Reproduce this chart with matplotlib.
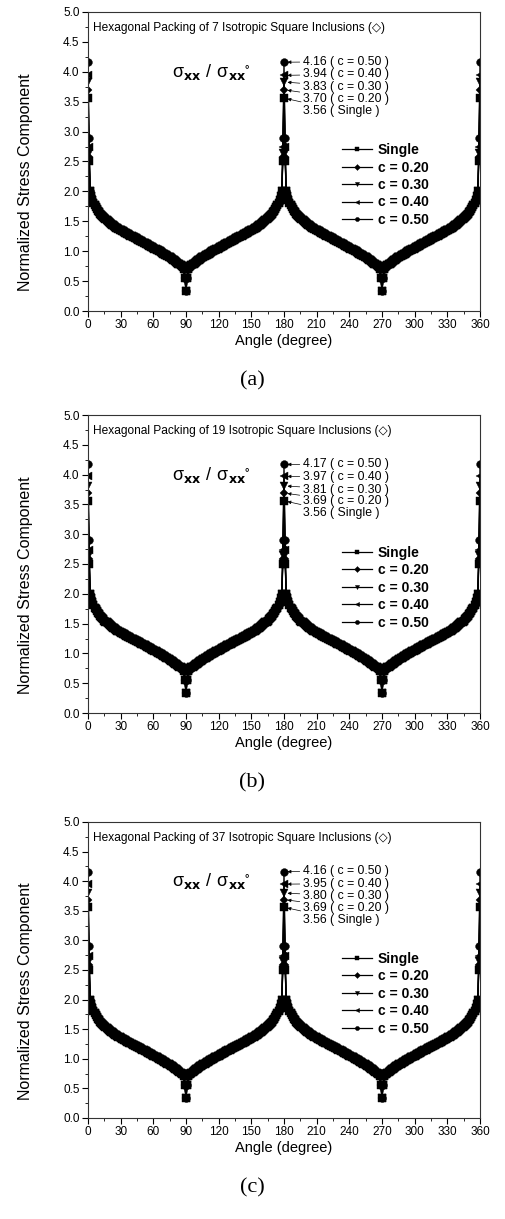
import numpy as np
import matplotlib.pyplot as plt
from matplotlib.ticker import MultipleLocator

# angle grid (degree), one quarter of the period: 0..90
angle_quarter = list(range(0, 91))

# shared part of the normalized stress profile for 2..90 degrees
profile_tail = [
    2.00, 1.93, 1.86, 1.81, 1.77, 1.74, 1.71, 1.68, 1.655,          # 2-10
    1.63, 1.61, 1.59, 1.57, 1.55, 1.535, 1.52, 1.505, 1.49, 1.475,  # 11-20
    1.46, 1.445, 1.43, 1.42, 1.405, 1.395, 1.38, 1.37, 1.36, 1.35,  # 21-30
    1.34, 1.33, 1.32, 1.31, 1.30, 1.29, 1.28, 1.27, 1.26, 1.25,     # 31-40
    1.24, 1.23, 1.22, 1.215, 1.205, 1.195, 1.185, 1.175, 1.165, 1.155,  # 41-50
    1.145, 1.135, 1.125, 1.115, 1.105, 1.095, 1.085, 1.075, 1.065, 1.055,  # 51-60
    1.045, 1.035, 1.025, 1.015, 1.005, 0.995, 0.985, 0.975, 0.96, 0.95,  # 61-70
    0.94, 0.93, 0.915, 0.905, 0.895, 0.88, 0.87, 0.855, 0.845, 0.83,  # 71-80
    0.82, 0.805, 0.79, 0.78, 0.765, 0.75, 0.735, 0.71, 0.55, 0.34,   # 81-90
]

series_names = ['Single', 'c = 0.20', 'c = 0.30', 'c = 0.40', 'c = 0.50']
series_markers = ['s', 'D', 'v', '<', 'o']
series_msize = [5.2, 4.4, 5.8, 5.8, 5.6]

# values at 1 degree from the peak for each series
value_at_1deg = [2.50, 2.58, 2.65, 2.74, 2.90]

# peak values at 0/180/360 degrees for each panel (from the annotations)
panel_labels = ['(a)', '(b)', '(c)']
panel_counts = [7, 19, 37]
peak_values = [
    [3.56, 3.70, 3.83, 3.94, 4.16],
    [3.56, 3.69, 3.81, 3.97, 4.17],
    [3.56, 3.69, 3.80, 3.95, 4.16],
]


def full_curve(peak, first):
    quarter = [peak, first] + profile_tail
    half = quarter + quarter[-2::-1]          # 0..180, symmetric about 90
    return half + half[1:]                    # 0..360, period 180


angle_half = angle_quarter + [180 - a for a in angle_quarter[-2::-1]]
angles = np.array(angle_half + [180 + a for a in angle_half[1:]])

plt.rcParams['font.family'] = ['Liberation Sans', 'DejaVu Sans']

fig = plt.figure(figsize=(5.05, 12.19), dpi=100)

# axes boxes in pixels: (top, bottom)
boxes = [(12, 311), (415, 713), (822, 1118)]
W, H = 505.0, 1219.0
left_px, right_px = 88, 480

for p in range(3):
    top, bot = boxes[p]
    ax = fig.add_axes([left_px / W, (H - bot) / H, (right_px - left_px) / W, (bot - top) / H])

    for k in range(5):
        y = full_curve(peak_values[p][k], value_at_1deg[k])
        ax.plot(angles, y, color='black', lw=0.9, marker=series_markers[k],
                ms=series_msize[k], mfc='black', mec='black', mew=0.3,
                label=series_names[k])

    ax.set_xlim(0, 360)
    ax.set_ylim(0, 5)
    ax.xaxis.set_major_locator(MultipleLocator(30))
    ax.xaxis.set_minor_locator(MultipleLocator(15))
    ax.yaxis.set_major_locator(MultipleLocator(0.5))
    ax.yaxis.set_minor_locator(MultipleLocator(0.25))
    ax.yaxis.set_major_formatter(plt.FuncFormatter(lambda v, pos: f'{v:.1f}'))
    ax.tick_params(which='major', direction='out', length=4, width=0.8, labelsize=8.5, pad=2)
    ax.tick_params(which='minor', direction='out', length=2, width=0.6)
    for s in ax.spines.values():
        s.set_linewidth(0.8)
        s.set_color('#333333')

    ax.set_xlabel('Angle (degree)', fontsize=10.5, labelpad=2)
    ax.set_ylabel('Normalized Stress Component', fontsize=11.5)
    ax.yaxis.set_label_coords(-0.14, 0.43)

    ax.text(0.013, 0.965, f'Hexagonal Packing of {panel_counts[p]} Isotropic Square Inclusions (\u25c7)',
            transform=ax.transAxes, fontsize=8.6, va='top', ha='left',
            family=['Liberation Sans', 'DejaVu Sans'])

    ax.text(0.215, 0.80, r'$\mathregular{\sigma_{\mathbf{xx}}\ /\ \sigma_{\mathbf{xx}}{}^{\circ}}$',
            transform=ax.transAxes, fontsize=13, va='center', ha='left')

    # annotations at the 180 degree peak
    text_y = [4.17, 3.96, 3.75, 3.55, 3.35]
    order = [4, 3, 2, 1, 0]
    for i, k in enumerate(order):
        txt = f'{peak_values[p][k]:.2f} ( {series_names[k]} )'
        ax.annotate(txt, xy=(180, peak_values[p][k]), xytext=(197, text_y[i]),
                    fontsize=8.8, va='center', ha='left',
                    arrowprops=dict(arrowstyle='-|>', color='black', lw=0.5,
                                    mutation_scale=5, shrinkA=0, shrinkB=2.5))

    leg = ax.legend(loc='upper left', bbox_to_anchor=(0.63, 0.585), frameon=False,
                    prop={'weight': 'bold', 'size': 10}, handlelength=2.2,
                    handletextpad=0.4, labelspacing=0.25, borderpad=0)
    for h in leg.legend_handles:
        h.set_markersize(3)

    fig.text(0.5, (H - (bot + 70)) / H, panel_labels[p], ha='center', va='center',
             fontsize=16, family=['Liberation Serif', 'DejaVu Serif'])

fig.savefig('out.png', dpi=100)
